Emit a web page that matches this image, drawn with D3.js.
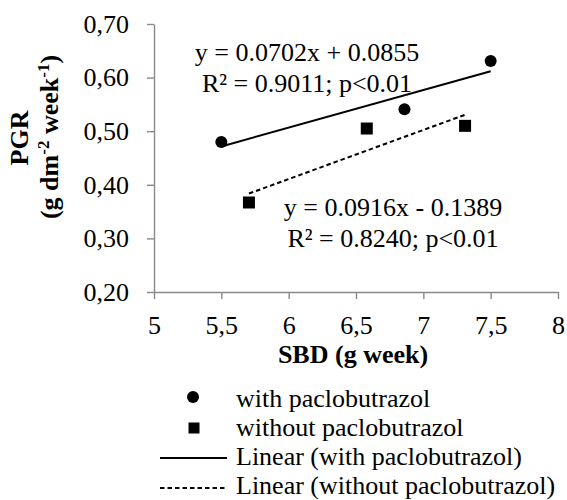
<html>
<head>
<script src="https://d3js.org/d3.v7.min.js"></script>
</head>
<body style="margin:0; background:#fff">
<script>
// data
var withX = [5.5, 6.86, 7.5];
var withY = [0.48, 0.541, 0.631];
var withoutX = [5.705, 6.58, 7.31];
var withoutY = [0.367, 0.505, 0.51];
// linear trend lines (from the equations printed on the chart)
var withFit = [0.0702, 0.0855];
var withoutFit = [0.0916, -0.1389];
var xTicks = [5, 5.5, 6, 6.5, 7, 7.5, 8];
var yTicks = [0.2, 0.3, 0.4, 0.5, 0.6, 0.7];
var legendLabels = ["with paclobutrazol", "without paclobutrazol",
                    "Linear (with paclobutrazol)", "Linear (without paclobutrazol)"];

var fs = 26;
var font = "'Liberation Serif', 'Times New Roman', serif";
var axisColor = "#898989";

var svg = d3.select("body").append("svg")
    .attr("width", 567).attr("height", 500);

var x = d3.scaleLinear().domain([5, 8]).range([154, 558]);
var y = d3.scaleLinear().domain([0.2, 0.7]).range([292, 24]);

function comma(f) { return function(d) { return d3.format(f)(d).replace(".", ","); }; }

// axes
svg.append("g")
    .attr("transform", "translate(0," + y(0.2) + ")")
    .call(d3.axisBottom(x).tickValues(xTicks).tickFormat(function(d) { return String(d).replace(".", ","); })
        .tickSize(7).tickSizeOuter(0).tickPadding(17));
svg.append("g")
    .attr("transform", "translate(" + x(5) + ",0)")
    .call(d3.axisLeft(y).tickValues(yTicks).tickFormat(comma(".2f"))
        .tickSize(7).tickSizeOuter(0).tickPadding(18));
svg.selectAll(".domain, .tick line").attr("stroke", axisColor).attr("stroke-width", 1.4);
svg.selectAll(".tick text").style("font-size", fs + "px").style("font-family", font).attr("fill", "#000");

// trend lines
function fitLine(fit, xs) {
    var x0 = d3.min(xs), x1 = d3.max(xs);
    return [[x0, fit[0] * x0 + fit[1]], [x1, fit[0] * x1 + fit[1]]];
}
var line = d3.line().x(function(d) { return x(d[0]); }).y(function(d) { return y(d[1]); });
svg.append("path").attr("d", line(fitLine(withFit, withX)))
    .attr("stroke", "#000").attr("stroke-width", 2).attr("fill", "none");
svg.append("path").attr("d", line(fitLine(withoutFit, withoutX)))
    .attr("stroke", "#000").attr("stroke-width", 2).attr("fill", "none")
    .attr("stroke-dasharray", "4.5,3");

// points
svg.append("g").selectAll("circle")
    .data(d3.zip(withX, withY)).enter().append("circle")
    .attr("cx", function(d) { return x(d[0]); })
    .attr("cy", function(d) { return y(d[1]); })
    .attr("r", 6).attr("fill", "#000");
svg.append("g").selectAll("rect")
    .data(d3.zip(withoutX, withoutY)).enter().append("rect")
    .attr("x", function(d) { return x(d[0]) - 6; })
    .attr("y", function(d) { return y(d[1]) - 6; })
    .attr("width", 12).attr("height", 12).attr("fill", "#000");

function txt(sel) {
    return sel.style("font-family", font).style("font-size", fs + "px").attr("fill", "#000");
}

// equations
function eq(cx, by, l1, l2) {
    txt(svg.append("text")).attr("x", cx).attr("y", by).attr("text-anchor", "middle").text(l1);
    txt(svg.append("text")).attr("x", cx).attr("y", by + 31).attr("text-anchor", "middle").text(l2);
}
eq(307, 61, "y = 0.0702x + 0.0855", "R² = 0.9011; p<0.01");
eq(393, 216, "y = 0.0916x - 0.1389", "R² = 0.8240; p<0.01");

// axis titles
txt(svg.append("text")).attr("x", x(6.5) - 3).attr("y", 363).attr("text-anchor", "middle")
    .style("font-weight", "bold").text("SBD (g week)");
txt(svg.append("text")).attr("transform", "translate(28,138) rotate(-90)").attr("text-anchor", "middle")
    .style("font-weight", "bold").text("PGR");
var t2 = txt(svg.append("text")).attr("transform", "translate(58,137) rotate(-90)").attr("text-anchor", "middle")
    .style("font-weight", "bold");
t2.append("tspan").text("(g dm");
t2.append("tspan").attr("dy", -9).style("font-size", "17px").text("-2");
t2.append("tspan").attr("dy", 9).text(" week");
t2.append("tspan").attr("dy", -9).style("font-size", "17px").text("-1");
t2.append("tspan").attr("dy", 9).text(")");

// legend
var lg = svg.append("g");
var rowY = [402, 431, 460, 489];
lg.append("circle").attr("cx", 193).attr("cy", rowY[0] - 5).attr("r", 6).attr("fill", "#000");
lg.append("rect").attr("x", 188.5).attr("y", rowY[1] - 8.5).attr("width", 11).attr("height", 11).attr("fill", "#000");
lg.append("line").attr("x1", 160).attr("x2", 227).attr("y1", rowY[2] - 2).attr("y2", rowY[2] - 2)
    .attr("stroke", "#000").attr("stroke-width", 2);
lg.append("line").attr("x1", 160).attr("x2", 227).attr("y1", rowY[3] - 1).attr("y2", rowY[3] - 1)
    .attr("stroke", "#000").attr("stroke-width", 2).attr("stroke-dasharray", "4.5,3");
txt(lg.selectAll("text").data(legendLabels).enter().append("text"))
    .attr("x", 236).attr("y", function(d, i) { return rowY[i] + 5; })
    .text(function(d) { return d; });
</script>
</body>
</html>
